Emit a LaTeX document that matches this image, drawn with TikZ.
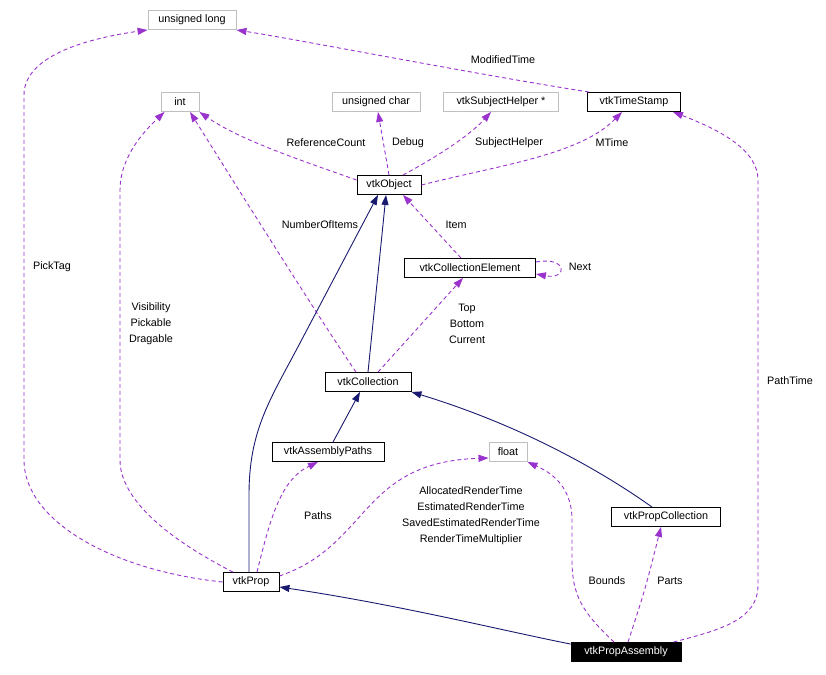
\documentclass[tikz,border=0pt]{standalone}
\usepackage{fontspec}
\setmainfont{Liberation Sans}
\usepackage{xcolor}
\definecolor{usecolor}{RGB}{154,50,205}
\definecolor{inhcolor}{RGB}{25,25,112}
\definecolor{extcolor}{RGB}{191,191,191}
\usetikzlibrary{arrows.meta}

\begin{document}
\begin{tikzpicture}[x=1pt,y=-1pt,
    font=\fontsize{10.8pt}{16pt}\selectfont,
    cls/.style={draw, line width=0.9pt, minimum height=19pt, inner sep=0pt},
    ext/.style={cls, draw=extcolor},
    focus/.style={cls, fill=black, text=white},
    lbl/.style={inner sep=0pt, align=center},
    uses/.style={draw=usecolor, line width=0.9pt, dash pattern=on 4pt off 3pt, -{Triangle[length=10pt,width=7pt]}},
    inh/.style={draw=inhcolor, line width=0.9pt, -{Triangle[length=10pt,width=7pt]}}]
        \useasboundingbox (0,0) rectangle (826,674);

        \node (ulong) [ext, minimum width=88pt] at (192,20) {unsigned long};
        \node (int) [ext, minimum width=38pt] at (180,102) {int};
        \node (uchar) [ext, minimum width=88pt] at (376,102) {unsigned char};
        \node (subj) [ext, minimum width=115pt] at (501,102) {vtkSubjectHelper *};
        \node (ts) [cls, minimum width=93pt] at (634,102) {vtkTimeStamp};
        \node (obj) [cls, minimum width=64pt] at (389,185) {vtkObject};
        \node (elem) [cls, minimum width=131pt] at (470,268) {vtkCollectionElement};
        \node (coll) [cls, minimum width=86pt] at (368,382) {vtkCollection};
        \node (apaths) [cls, minimum width=112pt] at (328,452) {vtkAssemblyPaths};
        \node (float) [ext, minimum width=38pt] at (508,452) {float};
        \node (pcoll) [cls, minimum width=109pt] at (666,517) {vtkPropCollection};
        \node (prop) [cls, minimum width=56pt] at (251,582) {vtkProp};
        \node (pa) [focus, minimum width=110pt] at (626,652) {vtkPropAssembly};

        \draw[uses] (prop.west) .. controls (110,570) and (24,520) .. (24,460) -- (24,95) .. controls (24,55) and (90,38) .. (ulong.south west);
        \draw[uses] ([xshift=-18pt]prop.north) .. controls (170,540) and (120,500) .. (120,460) -- (120,190) .. controls (120,160) and (140,135) .. ([xshift=4pt]int.south west);
        \draw[uses] ([xshift=-12pt]coll.north) .. controls (320,320) and (220,160) .. ([xshift=10pt]int.south);
        \draw[uses] ([yshift=5pt]obj.west) .. controls (300,160) and (240,140) .. (int.south east);
        \draw[uses] (obj.north) -- ([xshift=2pt]uchar.south);
        \draw[uses] ([xshift=14pt]obj.north) .. controls (440,155) and (470,135) .. ([xshift=-10pt]subj.south);
        \draw[uses] (obj.east) .. controls (500,165) and (580,155) .. ([xshift=-12pt]ts.south);
        \draw[uses] ([xshift=2pt]ts.north west) .. controls (480,75) and (300,40) .. (ulong.south east);
        \draw[uses] ([xshift=-8pt]pa.north east) .. controls (720,630) and (758,620) .. (758,585) -- (758,180) .. controls (758,150) and (720,130) .. ([xshift=-8pt]ts.south east);
        \draw[uses] ([xshift=-9pt]elem.north) -- ([xshift=14pt]obj.south);
        \draw[uses] ([yshift=6pt]elem.east) .. controls (568,256) and (568,280) .. ([yshift=-6pt]elem.east);
        \draw[uses] ([xshift=10pt]coll.north) -- ([xshift=-7pt]elem.south);
        \draw[uses] ([xshift=6pt]prop.north) .. controls (270,520) and (280,480) .. ([xshift=-10pt]apaths.south);
        \draw[uses] ([yshift=6pt]prop.east) .. controls (370,545) and (360,462) .. ([yshift=-6pt]float.west);
        \draw[uses] ([xshift=-12pt]pa.north) .. controls (582,612) and (572,595) .. (572,560) -- (572,520) .. controls (572,482) and (545,470) .. (float.south east);
        \draw[uses] ([xshift=2pt]pa.north) .. controls (645,590) .. ([xshift=-5pt]pcoll.south);

        \draw[inh] (coll.north) -- ([xshift=-3pt]obj.south);
        \draw[inh] ([xshift=-2pt]prop.north) -- (249,495) .. controls (249,430) and (270,400) .. (300,343) -- ([xshift=-11pt]obj.south);
        \draw[inh] ([xshift=5pt]apaths.north) -- ([xshift=-8pt]coll.south);
        \draw[inh] ([xshift=-14pt]pcoll.north) .. controls (600,470) and (520,425) .. (coll.south east);
        \draw[inh] ([yshift=-2pt]pa.north west) .. controls (500,630) and (400,605) .. ([yshift=-5pt]prop.east);

        \node (lmod) [lbl] at (503,60) {ModifiedTime};
        \node (lref) [lbl] at (326,143) {ReferenceCount};
        \node (ldebug) [lbl] at (408,143) {Debug};
        \node (lsubj) [lbl] at (509,143) {SubjectHelper};
        \node (lmtime) [lbl] at (612,143) {MTime};
        \node (lnum) [lbl] at (320,225) {NumberOfItems};
        \node (litem) [lbl] at (456,225) {Item};
        \node (lnext) [lbl] at (580,267) {Next};
        \node (ltop) [lbl] at (467,324) {Top\\Bottom\\Current};
        \node (lpick) [lbl] at (52,267) {PickTag};
        \node (lvis) [lbl] at (151,324) {Visibility\\Pickable\\Dragable};
        \node (lpath) [lbl] at (790,381) {PathTime};
        \node (lpaths) [lbl] at (318,516) {Paths};
        \node (lrender) [lbl] at (471,516) {AllocatedRenderTime\\EstimatedRenderTime\\SavedEstimatedRenderTime\\RenderTimeMultiplier};
        \node (lbounds) [lbl] at (607,581) {Bounds};
        \node (lparts) [lbl] at (670,581) {Parts};
      \end{tikzpicture}
\end{document}
